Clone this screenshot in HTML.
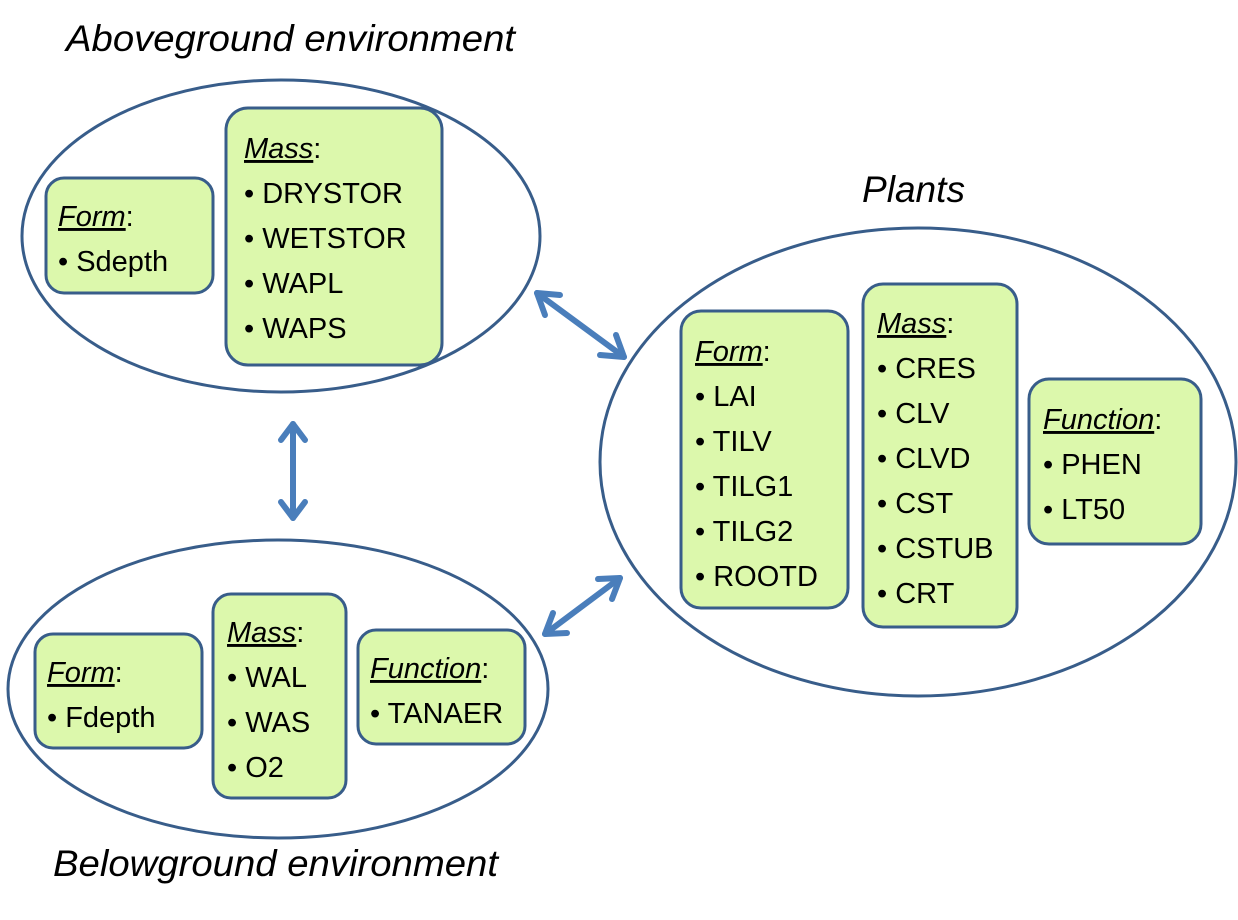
<!DOCTYPE html>
<html><head><meta charset="utf-8"><style>
body{margin:0;background:#fff}
svg text{font-family:"Liberation Sans",sans-serif;fill:#000}
.t{font-size:29px}
.h{font-size:37px;font-style:italic}
</style></head><body>
<svg width="1238" height="915" viewBox="0 0 1238 915">
<g fill="none" stroke="#385d8a" stroke-width="3">
<ellipse cx="281" cy="236" rx="259" ry="156"/>
<ellipse cx="918" cy="462" rx="318" ry="234"/>
<ellipse cx="278" cy="689" rx="270" ry="149"/>
</g>
<g fill="#dcf8ac" stroke="#385d8a" stroke-width="3">
<rect x="46" y="178" width="167" height="115" rx="18"/>
<rect x="226" y="108" width="216" height="257" rx="22"/>
<rect x="681" y="311" width="167" height="297" rx="20"/>
<rect x="863" y="284" width="154" height="343" rx="20"/>
<rect x="1029" y="379" width="172" height="165" rx="20"/>
<rect x="35" y="634" width="167" height="114" rx="18"/>
<rect x="213" y="594" width="133" height="204" rx="18"/>
<rect x="358" y="630" width="167" height="114" rx="18"/>
</g>
<g stroke="#4a7ebb" stroke-width="6" fill="none" stroke-linecap="round" stroke-linejoin="round">
<line x1="537" y1="293" x2="624" y2="357"/>
<polyline points="560,295 537,293 545,315"/>
<polyline points="600,355 624,357 616,335"/>
<line x1="293" y1="424" x2="293" y2="518"/>
<polyline points="281,440 293,424 305,440"/>
<polyline points="281,502 293,518 305,502"/>
<line x1="545" y1="634" x2="620" y2="578"/>
<polyline points="553,613 545,634 567,633"/>
<polyline points="598,579 620,578 612,599"/>
</g>
<text class="h" x="66" y="51" textLength="449" lengthAdjust="spacingAndGlyphs">Aboveground environment</text>
<text class="h" x="862" y="202" textLength="103" lengthAdjust="spacingAndGlyphs">Plants</text>
<text class="h" x="53" y="876" textLength="445" lengthAdjust="spacingAndGlyphs">Belowground environment</text>
<g class="t">
<text x="58" y="226"><tspan font-style="italic" text-decoration="underline">Form</tspan>:</text>
<text x="58" y="271">• Sdepth</text>
<text x="244" y="158"><tspan font-style="italic" text-decoration="underline">Mass</tspan>:</text>
<text x="244" y="203">• DRYSTOR</text>
<text x="244" y="248">• WETSTOR</text>
<text x="244" y="293">• WAPL</text>
<text x="244" y="338">• WAPS</text>
<text x="695" y="361"><tspan font-style="italic" text-decoration="underline">Form</tspan>:</text>
<text x="695" y="406">• LAI</text>
<text x="695" y="451">• TILV</text>
<text x="695" y="496">• TILG1</text>
<text x="695" y="541">• TILG2</text>
<text x="695" y="586">• ROOTD</text>
<text x="877" y="333"><tspan font-style="italic" text-decoration="underline">Mass</tspan>:</text>
<text x="877" y="378">• CRES</text>
<text x="877" y="423">• CLV</text>
<text x="877" y="468">• CLVD</text>
<text x="877" y="513">• CST</text>
<text x="877" y="558">• CSTUB</text>
<text x="877" y="603">• CRT</text>
<text x="1043" y="429"><tspan font-style="italic" text-decoration="underline">Function</tspan>:</text>
<text x="1043" y="474">• PHEN</text>
<text x="1043" y="519">• LT50</text>
<text x="47" y="682"><tspan font-style="italic" text-decoration="underline">Form</tspan>:</text>
<text x="47" y="727">• Fdepth</text>
<text x="227" y="642"><tspan font-style="italic" text-decoration="underline">Mass</tspan>:</text>
<text x="227" y="687">• WAL</text>
<text x="227" y="732">• WAS</text>
<text x="227" y="777">• O2</text>
<text x="370" y="678"><tspan font-style="italic" text-decoration="underline">Function</tspan>:</text>
<text x="370" y="723">• TANAER</text>
</g>
</svg>
</body></html>
